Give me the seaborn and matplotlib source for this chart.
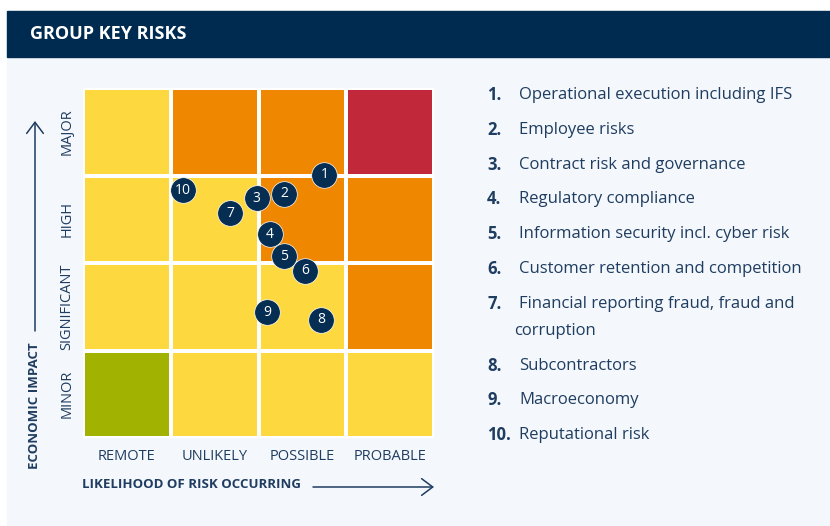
import numpy as np
import pandas as pd
import seaborn as sns
import matplotlib.pyplot as plt
from matplotlib.colors import ListedColormap
from matplotlib.patches import Rectangle

# ---- data ----
likelihood_labels = ['REMOTE', 'UNLIKELY', 'POSSIBLE', 'PROBABLE']
impact_labels = ['MAJOR', 'HIGH', 'SIGNIFICANT', 'MINOR']  # top to bottom

# risk level per cell (0=low, 1=medium, 2=high, 3=critical), rows top to bottom
level_major = [1, 2, 2, 3]
level_high = [1, 1, 2, 2]
level_significant = [1, 1, 1, 2]
level_minor = [0, 1, 1, 1]

risk_ids = [1, 2, 3, 4, 5, 6, 7, 8, 9, 10]
# position on the 0-4 scale (likelihood left->right, impact bottom->top)
risk_likelihood = [2.75, 2.29, 1.98, 2.13, 2.29, 2.53, 1.68, 2.71, 2.10, 1.14]
risk_impact = [3.01, 2.79, 2.74, 2.33, 2.08, 1.91, 2.57, 1.35, 1.44, 2.83]

risk_names = [
    'Operational execution including IFS',
    'Employee risks',
    'Contract risk and governance',
    'Regulatory compliance',
    'Information security incl. cyber risk',
    'Customer retention and competition',
    'Financial reporting fraud, fraud and\ncorruption',
    'Subcontractors',
    'Macroeconomy',
    'Reputational risk',
]

# ---- style ----
NAVY = '#002b50'
TEXT = '#1f3d60'
DOT = '#062d52'
PANEL = '#f4f7fc'
level_colors = ['#a2b200', '#fdd83f', '#f08700', '#c1283a']

sns.set_theme(style='white')
plt.rcParams['font.family'] = ['Open Sans', 'DejaVu Sans']

W, H = 830, 526


def fx(x):
    return x / W


def fy(y):
    return 1 - y / H


fig = plt.figure(figsize=(W / 100, H / 100), dpi=100)
fig.patch.set_facecolor('white')
fig.add_artist(Rectangle((fx(7), fy(526)), 1 - fx(7), fy(57) - fy(526),
                         transform=fig.transFigure, color=PANEL, zorder=0))
fig.add_artist(Rectangle((fx(7), fy(57)), 1 - fx(7), fy(11) - fy(57),
                         transform=fig.transFigure, color=NAVY, zorder=0))
fig.text(fx(30), fy(34), 'GROUP KEY RISKS', color='white', fontsize=13,
         fontweight='bold', va='center', ha='left')

# ---- matrix ----
ax = fig.add_axes([fx(83), fy(438), fx(434) - fx(83), fy(88) - fy(438)])
grid = pd.DataFrame([level_major, level_high, level_significant, level_minor],
                    index=impact_labels, columns=likelihood_labels)
sns.heatmap(grid, cmap=ListedColormap(level_colors), vmin=-0.5, vmax=3.5,
            linewidths=1.6, linecolor='white', cbar=False, ax=ax)

pts = pd.DataFrame({'x': risk_likelihood,
                    'y': [4 - v for v in risk_impact],
                    'id': risk_ids})
sns.scatterplot(data=pts, x='x', y='y', s=340, color=DOT, edgecolor='white',
                linewidth=0.5, ax=ax, zorder=3, clip_on=False, legend=False)
for _, r in pts.iterrows():
    ax.text(r['x'], r['y'], str(int(r['id'])), color='white', fontsize=10,
            ha='center', va='center', zorder=4)
ax.set_xlim(0, 4)
ax.set_ylim(4, 0)
ax.set_xlabel('')
ax.set_ylabel('')

ax.tick_params(axis='both', length=0, colors=TEXT)
ax.tick_params(axis='x', pad=8, labelsize=10.5)
ax.tick_params(axis='y', pad=6, labelsize=10.5)
plt.setp(ax.get_yticklabels(), rotation=90, va='center')
plt.setp(ax.get_xticklabels(), rotation=0)

# ---- axis titles & arrows ----
fig.text(fx(82), fy(484), 'LIKELIHOOD OF RISK OCCURRING', color=TEXT,
         fontsize=9.5, fontweight='bold', ha='left', va='center')
fig.text(fx(35), fy(406), 'ECONOMIC IMPACT', color=TEXT, fontsize=9.5,
         fontweight='bold', rotation=90, ha='center', va='center')
arrow = dict(arrowstyle='->,head_length=0.4,head_width=0.3', color=TEXT,
             lw=1.1, mutation_scale=20, shrinkA=0, shrinkB=0)
fig.add_artist(plt.Annotation('', xy=(fx(434), fy(487)), xytext=(fx(313), fy(487)),
                              xycoords='figure fraction', arrowprops=arrow))
fig.add_artist(plt.Annotation('', xy=(fx(35), fy(121)), xytext=(fx(35), fy(331)),
                              xycoords='figure fraction', arrowprops=arrow))

# ---- legend list ----
y = 95
for rid, name in zip(risk_ids, risk_names):
    fig.text(fx(487), fy(y), f'{rid}.', color=TEXT, fontsize=12,
             fontweight='bold', ha='left', va='center')
    lines = name.split('\n')
    fig.text(fx(519), fy(y), lines[0], color=TEXT, fontsize=12,
             ha='left', va='center')
    for extra in lines[1:]:
        y += 27
        fig.text(fx(514), fy(y), extra, color=TEXT, fontsize=12,
                 ha='left', va='center')
    y += 34.8

fig.savefig('out.png', dpi=100)
